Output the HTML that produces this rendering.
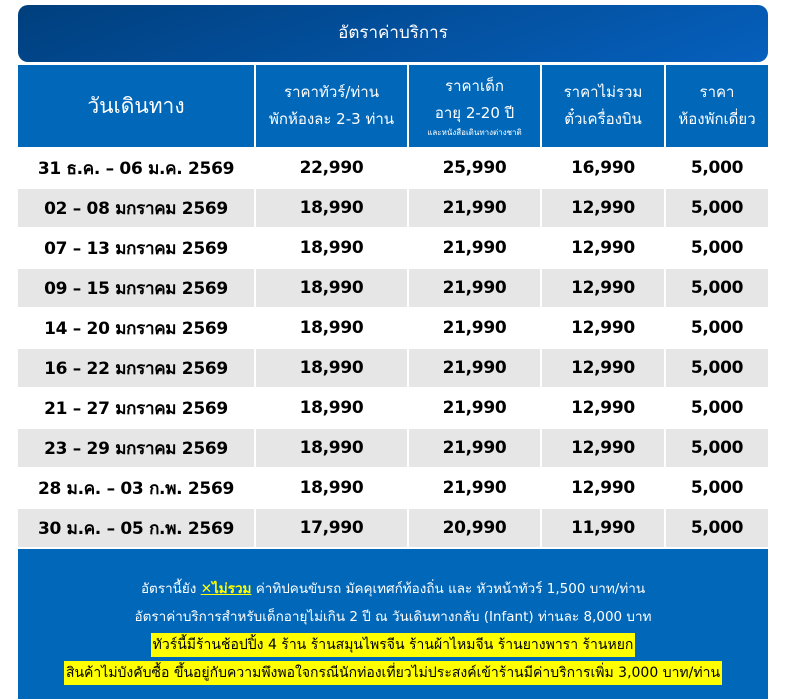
<!DOCTYPE html><html><head><meta charset="utf-8"><style>
*{margin:0;padding:0;box-sizing:border-box}
body{width:785px;height:699px;background:#fff;position:relative;overflow:hidden;font-family:"Tahoma","DejaVu Sans","Liberation Sans",sans-serif}
.t{position:absolute;left:18px;top:5px;width:750px;height:57px;border-radius:10px;background:linear-gradient(160deg,#003f7d,#0660bd);color:#fff;font-size:17px;text-align:center;line-height:57px}
.c{position:absolute;display:flex;align-items:center;justify-content:center;text-align:center}
.h{background:#0067b9;color:#fff;font-size:15px;line-height:27px;flex-direction:column}
.r{font-size:17px;color:#000;font-weight:bold;letter-spacing:-0.3px}
.f{position:absolute;left:18px;top:549px;width:750px;height:150px;background:#0067b9;color:#fff;text-align:center;font-size:13.5px;padding-top:26px;line-height:28px;white-space:nowrap}
.y{background:#ff0;color:#000;padding:4px 2px;font-size:14px}
</style></head><body>
<div class="t">อัตราค่าบริการ</div>
<div class="c h" style="left:18px;top:65px;width:236px;height:82px;font-size:21px">วันเดินทาง</div>
<div class="c h" style="left:256px;top:65px;width:151px;height:82px">ราคาทัวร์/ท่าน<br>พักห้องละ 2-3 ท่าน</div>
<div class="c h" style="left:409px;top:65px;width:131px;height:82px"><div>ราคาเด็ก</div><div>อายุ 2-20 ปี</div><div style="font-size:8px;line-height:12px">และหนังสือเดินทางต่างชาติ</div></div>
<div class="c h" style="left:542px;top:65px;width:122px;height:82px">ราคาไม่รวม<br>ตั๋วเครื่องบิน</div>
<div class="c h" style="left:666px;top:65px;width:102px;height:82px">ราคา<br>ห้องพักเดี่ยว</div>
<div id="rows"></div>
<div class="f">อัตรานี้ยัง <b style="color:#ff0;text-decoration:underline">✕ไม่รวม</b> ค่าทิปคนขับรถ มัคคุเทศก์ท้องถิ่น และ หัวหน้าทัวร์ 1,500 บาท/ท่าน<br>อัตราค่าบริการสำหรับเด็กอายุไม่เกิน 2 ปี ณ วันเดินทางกลับ (Infant) ท่านละ 8,000 บาท<br><span class="y">ทัวร์นี้มีร้านช้อปปิ้ง 4 ร้าน ร้านสมุนไพรจีน ร้านผ้าไหมจีน ร้านยางพารา ร้านหยก</span><br><span class="y">สินค้าไม่บังคับซื้อ ขึ้นอยู่กับความพึงพอใจกรณีนักท่องเที่ยวไม่ประสงค์เข้าร้านมีค่าบริการเพิ่ม 3,000 บาท/ท่าน</span></div>
<script>
var d=[["31 ธ.ค. – 06 ม.ค. 2569","22,990","25,990","16,990"],["02 – 08 มกราคม 2569","18,990","21,990","12,990"],["07 – 13 มกราคม 2569","18,990","21,990","12,990"],["09 – 15 มกราคม 2569","18,990","21,990","12,990"],["14 – 20 มกราคม 2569","18,990","21,990","12,990"],["16 – 22 มกราคม 2569","18,990","21,990","12,990"],["21 – 27 มกราคม 2569","18,990","21,990","12,990"],["23 – 29 มกราคม 2569","18,990","21,990","12,990"],["28 ม.ค. – 03 ก.พ. 2569","18,990","21,990","12,990"],["30 ม.ค. – 05 ก.พ. 2569","17,990","20,990","11,990"]];
var cols=[[18,236],[256,151],[409,131],[542,122],[666,102]],h="";
d.forEach(function(r,i){var top=149+i*40,bg=i%2?"#e6e6e6":"#fff";r.push("5,000");
cols.forEach(function(c,j){h+='<div class="c r" style="left:'+c[0]+'px;top:'+top+'px;width:'+c[1]+'px;height:38px;background:'+bg+'">'+r[j]+'</div>'})});
document.getElementById("rows").innerHTML=h;
</script>
</body></html>
